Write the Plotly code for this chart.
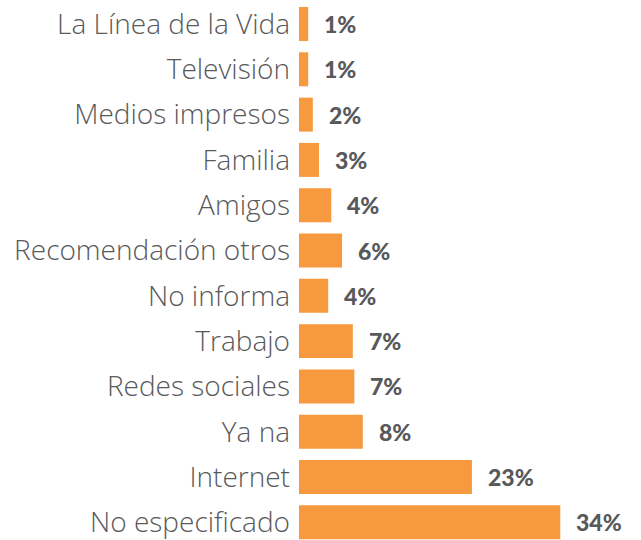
import plotly.graph_objects as go

# fuentes de contacto (de abajo hacia arriba)
categorias = ["No especificado", "Internet", "Ya na", "Redes sociales", "Trabajo",
              "No informa", "Recomendación otros", "Amigos", "Familia",
              "Medios impresos", "Televisión", "La Línea de la Vida"]
valores = [34.0, 22.5, 8.3, 7.2, 7.0, 3.8, 5.6, 4.2, 2.6, 1.8, 1.2, 1.2]
etiquetas = ["34%", "23%", "8%", "7%", "7%", "4%", "6%", "4%", "3%", "2%", "1%", "1%"]

naranja = "#F7993F"
gris = "#58595B"

fig = go.Figure()
fig.add_trace(go.Bar(
    y=categorias, x=valores, orientation="h",
    marker=dict(color=naranja, line=dict(width=0)),
    hoverinfo="skip",
))

# etiquetas de porcentaje a la derecha de cada barra
for cat, val, txt in zip(categorias, valores, etiquetas):
    fig.add_annotation(x=val, y=cat, text=txt, showarrow=False,
                       xanchor="left", xshift=14,
                       font=dict(family="Lato", size=23, color=gris, weight=900))

fig.update_layout(
    width=641, height=540,
    margin=dict(l=299, r=0, t=0, b=0),
    paper_bgcolor="white", plot_bgcolor="white",
    bargap=0.25,
    showlegend=False,
    xaxis=dict(visible=False, range=[0, 44.5]),
    yaxis=dict(range=[-0.39, 11.53], showgrid=False, zeroline=False, showline=False,
               ticks="", ticklabelstandoff=8,
               tickfont=dict(family="Open Sans", size=28, color=gris, weight=300)),
)

# sin margen del body para que la figura quede en la esquina
fig.write_html("out.html", config={"displayModeBar": False},
               post_script="document.body.style.margin='0';")
